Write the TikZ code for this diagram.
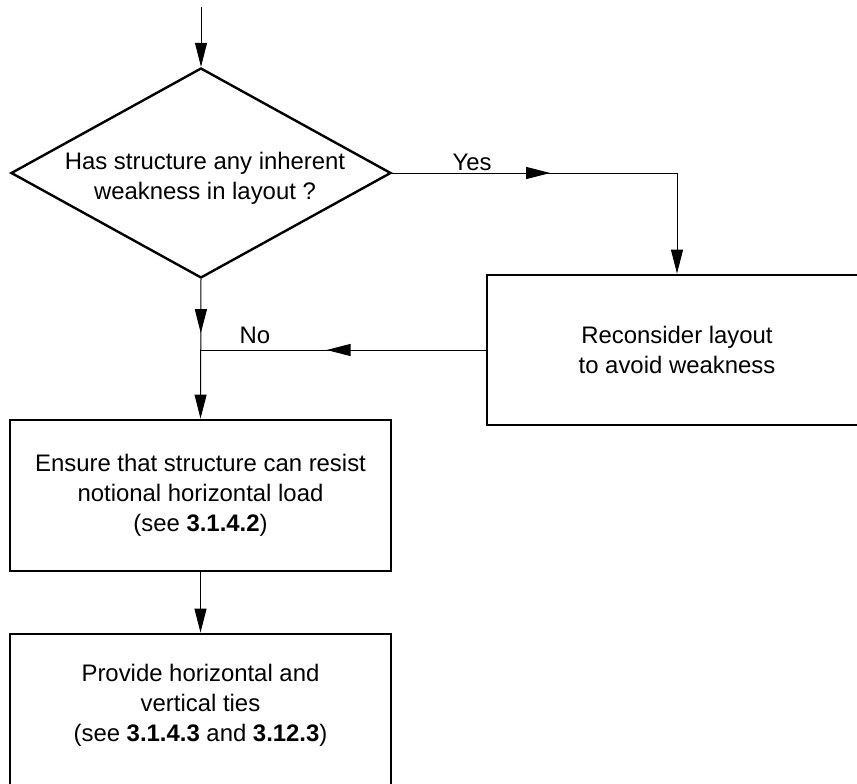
\documentclass[tikz,border=0pt]{standalone}
\usepackage{fontspec}
\setmainfont{Liberation Sans}
\usetikzlibrary{shapes.geometric,arrows.meta,decorations.markings}
\newcommand\dfont{\fontsize{23.9}{30}\selectfont}
\tikzset{
  box/.style={draw, line width=2.8pt, inner sep=0pt, minimum width=381pt, minimum height=151pt, align=center, font=\dfont},
  diam/.style={draw, diamond, line width=2.4pt, inner sep=0pt, minimum width=380pt, minimum height=210pt},
  txt/.style={align=center, font=\dfont, inner sep=0pt},
  conn/.style={line width=1pt},
  endarrow/.style={-{Triangle[length=24pt,width=12pt]}},
  midarrow/.style={postaction={decorate}, decoration={markings, mark=at position #1 with {\arrow{Triangle[length=24pt,width=12pt]}}}},
}
\begin{document}
\begin{tikzpicture}[x=1pt,y=-1pt]
\clip (0,0) rectangle (857,784);
% nodes
\node[diam] (d) at (201,173) {};
\node[txt] (dt) at (205,178) {Has structure any inherent\\weakness in layout ?};
\node[box, minimum width=380pt, minimum height=150pt] (r) at (677,350) {Reconsider layout\\to avoid weakness};
\node[box] (a) at (200.5,495.5) {Ensure that structure can resist\\notional horizontal load\\(see \textbf{3.1.4.2})};
\node[box, minimum height=160pt] (b) at (200.5,714) {};
\node[txt] (bt) at (200.5,705) {Provide horizontal and\\vertical ties\\(see \textbf{3.1.4.3} and \textbf{3.12.3})};
\node[txt] (yes) at (472,162) {Yes};
\node[txt] (no) at (255,335) {No};
% coordinates
\coordinate (top) at (201,7);
\coordinate (c) at (677,173);
\coordinate (j) at (201,350);
% connectors
\draw[conn,endarrow] (top) -- (d.north);
\draw[conn,midarrow=158pt] (d.east) -- (c);
\draw[conn,endarrow] (c) -- (r.north);
\draw[conn,midarrow=159pt] (r.west) -- (j);
\draw[conn,midarrow=54pt,endarrow] (d.south) -- (a.north);
\draw[conn,endarrow] (a.south) -- (b.north);
\end{tikzpicture}
\end{document}
